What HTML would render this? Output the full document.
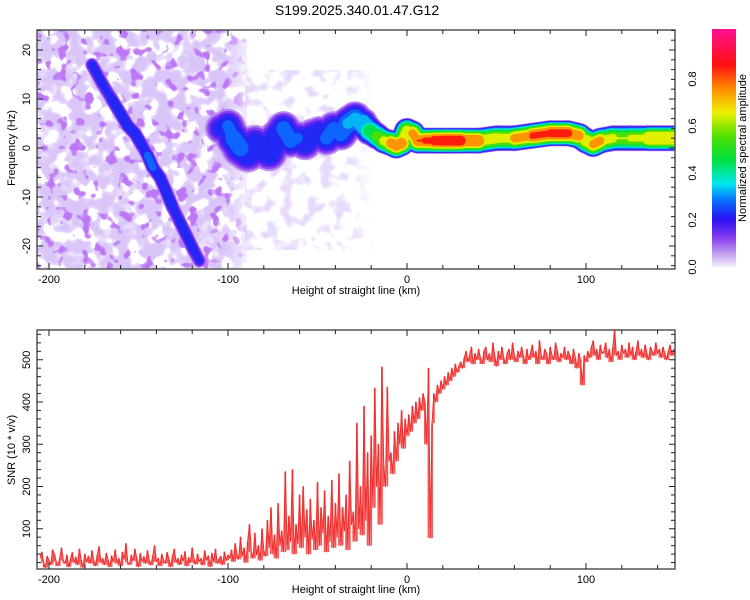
<!DOCTYPE html>
<html><head><meta charset="utf-8"><style>
html,body{margin:0;padding:0;background:#fff;}
svg{display:block;font-family:"Liberation Sans",sans-serif;}
</style></head><body>
<svg id="svg" width="750" height="600" viewBox="0 0 750 600" xmlns="http://www.w3.org/2000/svg">
<defs>
<filter id="nz" x="0" y="0" width="100%" height="100%" filterUnits="objectBoundingBox">
<feTurbulence type="fractalNoise" baseFrequency="0.07" numOctaves="2" seed="7"/>
<feColorMatrix type="matrix" values="0 0 0 0 0.7  0 0 0 0 0.56  0 0 0 0 0.95  3.4 0 0 0 -1.12"/>
<feComponentTransfer><feFuncA type="discrete" tableValues="0 0 0.55 0.8 0.95 1"/></feComponentTransfer>
</filter>
<filter id="nzd" x="0" y="0" width="100%" height="100%" filterUnits="objectBoundingBox">
<feTurbulence type="fractalNoise" baseFrequency="0.085" numOctaves="2" seed="23"/>
<feColorMatrix type="matrix" values="0 0 0 0 0.5  0 0 0 0 0.18  0 0 0 0 0.92  4 0 0 0 -2.05"/>
<feComponentTransfer><feFuncA type="discrete" tableValues="0 0 0.6 0.9 1"/></feComponentTransfer>
</filter>
<filter id="nz2" x="0" y="0" width="100%" height="100%" filterUnits="objectBoundingBox">
<feTurbulence type="fractalNoise" baseFrequency="0.075" numOctaves="2" seed="11"/>
<feColorMatrix type="matrix" values="0 0 0 0 0.7  0 0 0 0 0.56  0 0 0 0 0.95  3.4 0 0 0 -1.45"/>
<feComponentTransfer><feFuncA type="discrete" tableValues="0 0 0.4 0.65 0.85 1"/></feComponentTransfer>
</filter>
<linearGradient id="fadeR" x1="0" y1="0" x2="1" y2="0">
<stop offset="0" stop-color="#fff" stop-opacity="1"/><stop offset="0.8" stop-color="#fff" stop-opacity="1"/><stop offset="1" stop-color="#fff" stop-opacity="0"/>
</linearGradient>
<mask id="m2"><rect x="245" y="70" width="130" height="180" fill="url(#fadeR)"/></mask>
<linearGradient id="fadeL" x1="0" y1="0" x2="1" y2="0">
<stop offset="0" stop-color="#fff"/><stop offset="0.9" stop-color="#fff"/><stop offset="1" stop-color="#fff" stop-opacity="0.3"/>
</linearGradient>
<mask id="m1"><rect x="37" y="30" width="210" height="239" fill="url(#fadeL)"/></mask>
<linearGradient id="cbar" x1="0" y1="1" x2="0" y2="0">
<stop offset="0" stop-color="#f4eefc"/><stop offset="0.05" stop-color="#c8a8f0"/>
<stop offset="0.12" stop-color="#8a3ff0"/><stop offset="0.2" stop-color="#2a10f0"/>
<stop offset="0.28" stop-color="#0a70ff"/><stop offset="0.35" stop-color="#00e8f0"/>
<stop offset="0.45" stop-color="#00e040"/><stop offset="0.55" stop-color="#50e000"/>
<stop offset="0.65" stop-color="#f0f000"/><stop offset="0.75" stop-color="#ff8a00"/>
<stop offset="0.85" stop-color="#ff1010"/><stop offset="1" stop-color="#ff1090"/>
</linearGradient>
<clipPath id="clipTop"><rect x="37" y="30" width="638" height="239"/></clipPath>
<clipPath id="clipBot"><rect x="37" y="330" width="638" height="239"/></clipPath>
</defs>
<text x="357" y="15" font-size="14" text-anchor="middle">S199.2025.340.01.47.G12</text>
<g clip-path="url(#clipTop)">
<g mask="url(#m1)">
<rect x="37" y="30" width="210" height="239" fill="#fff" filter="url(#nz)"/>
<rect x="37" y="30" width="210" height="239" fill="#fff" filter="url(#nzd)"/>
</g>
<g mask="url(#m2)"><rect x="245" y="70" width="130" height="180" fill="#fff" filter="url(#nz2)" opacity="0.65"/></g>
<g id="heat"></g>
</g>
<rect x="37" y="30" width="638" height="239" fill="none" stroke="#555" stroke-width="1.5"/>
<g id="topAxes"></g>
<text x="356" y="294" font-size="11" text-anchor="middle">Height of straight line (km)</text>
<text transform="translate(15,148) rotate(-90)" font-size="11" text-anchor="middle">Frequency (Hz)</text>
<rect x="712" y="29" width="24" height="238" fill="url(#cbar)"/>
<g id="cbAxes"></g>
<text transform="translate(746,148) rotate(-90)" font-size="11" text-anchor="middle">Normalized spectral amplitude</text>
<g clip-path="url(#clipBot)"><g id="snrBand"></g><path id="snrLine" fill="none" stroke="#f03030" stroke-width="1.1" stroke-linejoin="round"/></g>
<rect x="37" y="330" width="638" height="239" fill="none" stroke="#555" stroke-width="1.5"/>
<g id="botAxes"></g>
<text x="356" y="593" font-size="11" text-anchor="middle">Height of straight line (km)</text>
<text transform="translate(15,450) rotate(-90)" font-size="11" text-anchor="middle">SNR (10 * v/v)</text>
</svg>
<script>
const xTicks=[-200,-100,0,100];
const freqTicks=[-20,-10,0,10,20];
const snrTicks=[100,200,300,400,500];
const cbTicks=[0.0,0.2,0.4,0.6,0.8];
const ridgeKm=[-104,-100,-97,-93,-89,-85,-81,-77,-73,-69,-65,-61,-57,-53,-49,-45,-41,-37,-33,-29,-25,-21,-17,-13,-9,-6,-3,0,3,6,10,15,20,30,40,50,60,70,80,90,96,100,104,108,115,125,135,149];
const ridgeFreq=[4,4.5,2,0,-1,1,0,-1,2,4,1.5,2,1,2.5,3,2,4,3,5,6,5,3.5,2.5,1.5,1,0.5,1,3.5,3,1.5,1.5,1.5,1.5,1.5,1.5,2,2,2.5,3,3,2.5,1.5,0.8,1.5,2,2,2,2];
const ridgeAmp=[0.18,0.26,0.24,0.3,0.22,0.25,0.22,0.28,0.22,0.3,0.23,0.26,0.22,0.25,0.22,0.28,0.23,0.25,0.3,0.3,0.32,0.45,0.5,0.6,0.7,0.85,0.75,0.6,0.7,0.8,0.8,0.85,0.9,0.88,0.75,0.6,0.7,0.8,0.85,0.85,0.7,0.6,0.8,0.7,0.6,0.6,0.65,0.85];
const ridgeSpread=[3,3.5,3.5,4,4,3.5,3.5,4,3.5,3.5,3.5,3.5,3.5,3.5,3.5,3.5,3.5,3.5,3.5,3.5,3,2.8,2.5,2.5,2.5,2.5,2.5,2.5,2.5,2.5,2.5,2.5,2.5,2.5,2.5,2.5,2.5,2.5,2.5,2.5,2.5,2.5,2.5,2.5,2.5,2.5,2.5,2.5];
const chirpKm=[-176,-170,-165,-160,-156,-152,-148,-145,-142,-138,-135,-131,-127,-123,-119,-116];
const chirpFreq=[17,13,10,7,4.5,3,0.5,-1.5,-4,-6,-8.5,-12,-15,-18,-21,-23];
const chirpAmp=[0.22,0.2,0.2,0.28,0.22,0.3,0.2,0.25,0.3,0.2,0.28,0.22,0.2,0.25,0.2,0.2];
const chirpSpread=[1.3,1.3,1.3,1.3,1.3,1.3,1.3,1.3,1.3,1.3,1.3,1.3,1.3,1.3,1.3,1.3];
const snrStartKm=-205;
const snrValues=[
30,45,20,8,35,25,15,50,40,22, 12,30,55,25,18,38,10,28,44,20, 33,15,52,26,8,40,22,35,18,48,
25,12,38,58,20,30,15,42,26,10, 36,22,50,18,30,12,45,28,65,20, 15,38,24,52,30,10,42,22,34,18,
48,26,14,36,60,22,30,12,40,25, 18,44,28,10,35,52,20,30,15,38, 24,46,12,32,20,55,28,16,40,22,
30,14,48,26,36,10,42,22,52,18, 28,35,15,45,25,38,
30,50,22,65,40,28,80,35,55,20, 70,110,45,30,90,38,60,25,100,48,
35,120,55,150,40,85,30,160,60,95, 45,235,50,130,70,240,40,110,65,180,
55,200,80,145,40,170,75,120,50,210, 60,150,90,190,45,130,70,215,55,160,
80,230,60,150,95,180,50,260,110,140, 70,350,100,200,85,390,120,280,60,320,
150,433,200,300,110,483,250,200,435,260, 280,230,330,260,350,300,380,290,360,320,
370,330,390,350,400,360,410,380,420,400, 300,480,78,350, 420,400,440,420,450,430,
460,440,470,450,480,460,490,470,485,495,
480,505,520,495,510,530,490,515,500,525, 505,490,520,530,500,515,495,540,510,485,
520,500,530,505,490,515,525,500,540,510, 495,520,505,530,510,490,525,500,515,535,
505,520,490,545,510,500,525,515,490,530, 510,500,540,520,495,515,505,530,500,520,
510,490,525,505,480,515,500,440,510,495, 520,505,530,545,510,525,500,535,515,520,
540,505,525,495,530,570,510,520,500,535, 515,525,505,540,510,530,500,520,545,510,
525,505,535,515,500,530,520,510,540,515, 525,505,530,515,500,520,535,510,525];

const NS='http://www.w3.org/2000/svg';
function xS(k){return 407+k*1.79;}
function yF(f){return 148-f*4.9;}
function yS(v){return 571-v*0.4225;}
function yC(a){return 267-a*235;}
const stops=[[0,[244,238,252]],[0.05,[200,168,240]],[0.12,[138,63,240]],[0.2,[42,16,240]],[0.28,[10,112,255]],[0.35,[0,232,240]],[0.45,[0,224,64]],[0.55,[80,224,0]],[0.65,[240,240,0]],[0.75,[255,138,0]],[0.85,[255,16,16]],[1,[255,16,144]]];
function cmap(a){for(let i=1;i<stops.length;i++){if(a<=stops[i][0]){const t=(a-stops[i-1][0])/(stops[i][0]-stops[i-1][0]);const c=stops[i-1][1].map((v,j)=>Math.round(v+t*(stops[i][1][j]-v)));return 'rgb('+c.join(',')+')';}}return 'rgb(255,16,144)';}
function mk(tag,attrs,parent){const e=document.createElementNS(NS,tag);for(const k in attrs)e.setAttribute(k,attrs[k]);parent.appendChild(e);return e;}

const heat=document.getElementById('heat');
const levels=[0.03,0.08,0.13,0.18,0.23,0.28,0.33,0.4,0.5,0.6,0.7,0.8,0.9];
function drawRidge(ks,fs,as,sp,name){
  levels.forEach(l=>{
    for(let i=0;i<ks.length-1;i++){
      const a=(as[i]+as[i+1])/2;
      if(Math.min(as[i],as[i+1])<l)continue;
      const s=(sp[i]+sp[i+1])/2;
      const w=2+2*s*4.9*Math.sqrt(Math.max(0,1-l/a));
      const ln=mk('line',{x1:xS(ks[i]),y1:yF(fs[i]),x2:xS(ks[i+1]),y2:yF(fs[i+1]),stroke:cmap(l+0.04),'stroke-width':w,'stroke-linecap':'round'},heat);
      
      
    }
  });
}
drawRidge(chirpKm,chirpFreq,chirpAmp,chirpSpread,'chirp');
drawRidge(ridgeKm,ridgeFreq,ridgeAmp,ridgeSpread,'ridge');

function tickSet(g,horiz,pos,len,name){
  const t=mk('line',horiz?{x1:pos[0],y1:pos[1],x2:pos[0],y2:pos[1]-len}:{x1:pos[0],y1:pos[1],x2:pos[0]+len,y2:pos[1]},g);
  t.setAttribute('stroke','#222');
  
  
}
function label(g,x,y,txt,anchor,rot,name){
  const t=mk('text',{x:x,y:y,'font-size':11,'text-anchor':anchor},g);
  if(rot)t.setAttribute('transform','rotate(-90 '+x+' '+y+')');
  t.textContent=txt;
  
  
}
function axes(gid,top,bot,yfun,ymin,ymax,minorStep,majors,yname){
  const g=document.getElementById(gid);
  for(let k=-200;k<=140;k+=20){
    const maj=xTicks.includes(k);const len=maj?6:4;
    tickSet(g,true,[xS(k),bot],len,'x-tick');
    tickSet(g,true,[xS(k),top],-len,'x-tick-top');
  }
  xTicks.forEach(k=>label(g,xS(k),bot+14,String(k),'middle',false,'x-tick-label'));
  for(let v=ymin;v<=ymax;v+=minorStep){
    const maj=majors.includes(v);const len=maj?6:4;
    tickSet(g,false,[37,yfun(v)],len,yname+'-tick');
    tickSet(g,false,[675,yfun(v)],-len,yname+'-tick-right');
  }
  majors.forEach(v=>label(g,30,yfun(v),String(v),'middle',true,yname+'-tick-label'));
}
axes('topAxes',30,269,yF,-24,24,2,freqTicks,'freq');
axes('botAxes',330,569,yS,20,560,20,snrTicks,'snr');
const cg=document.getElementById('cbAxes');
cbTicks.forEach(a=>label(cg,696,yC(a),a.toFixed(1),'middle',true,'colorbar-tick-label'));

const band=document.getElementById('snrBand');
snrValues.forEach((v,i)=>{
  const lo=Math.min(v,snrValues[Math.max(0,i-1)],snrValues[Math.min(snrValues.length-1,i+1)]);
  const x=xS(snrStartKm+i);
  const b=mk('rect',{x:x-0.9,y:yS(v),width:1.8,height:Math.max(0,yS(lo)-yS(v)),fill:'#f03030',opacity:0.8},band);
  
  
});
let d='';
snrValues.forEach((v,i)=>{d+=(i?'L':'M')+xS(snrStartKm+i).toFixed(1)+' '+yS(v).toFixed(1);});
document.getElementById('snrLine').setAttribute('d',d);
</script>
</body></html>
